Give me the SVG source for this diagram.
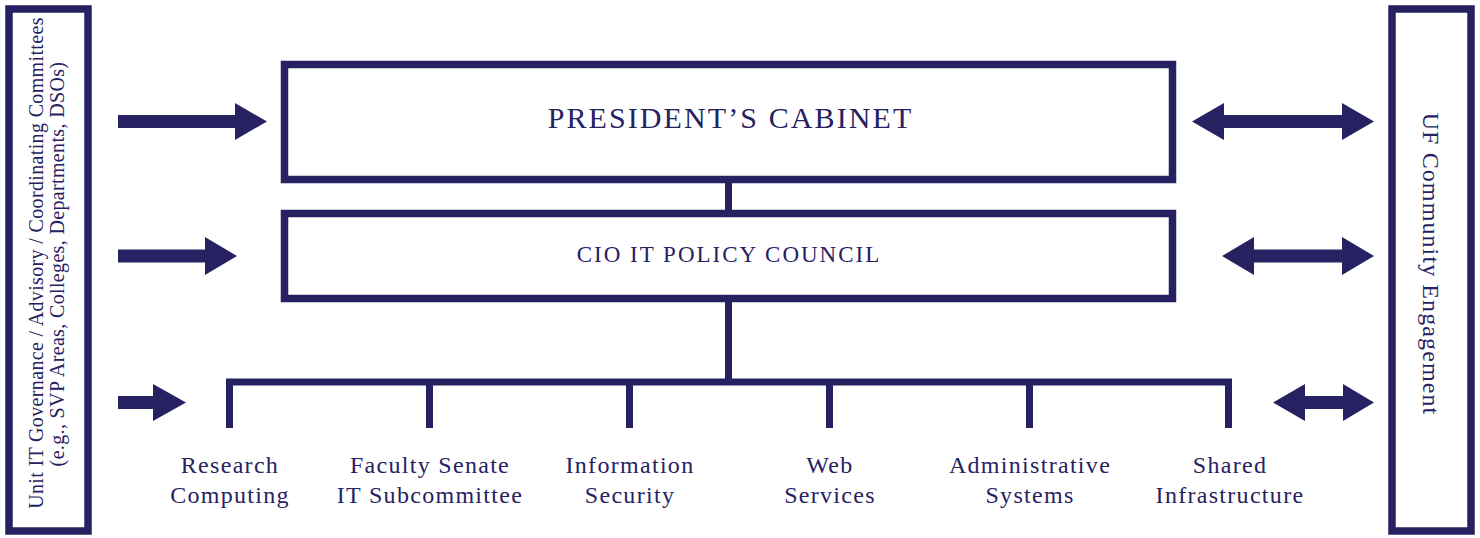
<svg xmlns="http://www.w3.org/2000/svg" width="1480" height="538" viewBox="0 0 1480 538">
<style>
  .box{fill:#ffffff;stroke:#262262;stroke-width:7.5}
  .conn{fill:none;stroke:#262262;stroke-width:7;stroke-linejoin:miter;stroke-linecap:butt}
  .arr{fill:#262262;stroke:none}
  text{font-family:'Liberation Serif','DejaVu Serif',serif;fill:#262262}
  .lbl{font-size:24px;letter-spacing:1.3px;text-anchor:middle}
</style>
<rect width="1480" height="538" fill="#ffffff"/>

<g id="unit-governance">
  <rect class="box" x="9" y="9" width="79" height="522"/>
  <text transform="translate(42.5,263) rotate(-90)" font-family="Liberation Serif, DejaVu Serif, serif" font-size="20" letter-spacing="0.35" text-anchor="middle">Unit IT Governance / Advisory / Coordinating Committees</text>
  <text transform="translate(64,264) rotate(-90)" font-family="Liberation Serif, DejaVu Serif, serif" font-size="20" letter-spacing="0.35" text-anchor="middle">(e.g., SVP Areas, Colleges, Departments, DSOs)</text>
</g>

<g id="uf-community">
  <rect class="box" x="1392" y="9" width="79" height="522"/>
  <text transform="translate(1423,264) rotate(90)" font-family="Liberation Serif, DejaVu Serif, serif" font-size="24" letter-spacing="1.1" text-anchor="middle">UF Community Engagement</text>
</g>

<g id="presidents-cabinet">
  <rect class="box" x="284.5" y="64.5" width="888" height="115" stroke-width="7"/>
  <text x="730.5" y="128" font-family="Liberation Serif, DejaVu Serif, serif" font-size="30" letter-spacing="2.1" text-anchor="middle">PRESIDENT’S CABINET</text>
</g>

<g id="cio-council">
  <rect class="box" x="284.5" y="213.5" width="888" height="85" stroke-width="7"/>
  <text x="729" y="262" font-family="Liberation Serif, DejaVu Serif, serif" font-size="23" letter-spacing="2" text-anchor="middle">CIO IT POLICY COUNCIL</text>
</g>

<g id="connectors">
  <line class="conn" x1="728.5" y1="182" x2="728.5" y2="211"/>
  <line class="conn" x1="728.5" y1="301" x2="728.5" y2="382"/>
  <path class="conn" d="M229.5,428 V382 H1228.5 V428"/>
  <line class="conn" x1="429.5" y1="382" x2="429.5" y2="428"/>
  <line class="conn" x1="629.5" y1="382" x2="629.5" y2="428"/>
  <line class="conn" x1="829.5" y1="382" x2="829.5" y2="428"/>
  <line class="conn" x1="1029.5" y1="382" x2="1029.5" y2="428"/>
  <polygon class="arr" points="118,115 235,115 235,103 267,121.5 235,140 235,128 118,128"/>
  <polygon class="arr" points="118,249.5 205,249.5 205,237 237,256 205,275 205,262.5 118,262.5"/>
  <polygon class="arr" points="118,396 153,396 153,384 186,402.5 153,421 153,409 118,409"/>
  <polygon class="arr" points="1192,121.5 1224,103 1224,115 1342,115 1342,103 1374,121.5 1342,140 1342,128 1224,128 1224,140"/>
  <polygon class="arr" points="1222,256 1254,237 1254,249.5 1342,249.5 1342,237 1374,256 1342,275 1342,262.5 1254,262.5 1254,275"/>
  <polygon class="arr" points="1273,402.5 1305,384 1305,396 1343,396 1343,384 1374,402.5 1343,421 1343,409 1305,409 1305,421"/>
</g>

<g id="research-computing">
  <text class="lbl" x="230" y="473" font-family="Liberation Serif, DejaVu Serif, serif">Research</text>
  <text class="lbl" x="230" y="503" font-family="Liberation Serif, DejaVu Serif, serif">Computing</text>
</g>
<g id="faculty-senate">
  <text class="lbl" x="430" y="473" font-family="Liberation Serif, DejaVu Serif, serif">Faculty Senate</text>
  <text class="lbl" x="430" y="503" font-family="Liberation Serif, DejaVu Serif, serif">IT Subcommittee</text>
</g>
<g id="information-security">
  <text class="lbl" x="630" y="473" font-family="Liberation Serif, DejaVu Serif, serif">Information</text>
  <text class="lbl" x="630" y="503" font-family="Liberation Serif, DejaVu Serif, serif">Security</text>
</g>
<g id="web-services">
  <text class="lbl" x="830" y="473" font-family="Liberation Serif, DejaVu Serif, serif">Web</text>
  <text class="lbl" x="830" y="503" font-family="Liberation Serif, DejaVu Serif, serif">Services</text>
</g>
<g id="administrative-systems">
  <text class="lbl" x="1030" y="473" font-family="Liberation Serif, DejaVu Serif, serif">Administrative</text>
  <text class="lbl" x="1030" y="503" font-family="Liberation Serif, DejaVu Serif, serif">Systems</text>
</g>
<g id="shared-infrastructure">
  <text class="lbl" x="1230" y="473" font-family="Liberation Serif, DejaVu Serif, serif">Shared</text>
  <text class="lbl" x="1230" y="503" font-family="Liberation Serif, DejaVu Serif, serif">Infrastructure</text>
</g>
</svg>
